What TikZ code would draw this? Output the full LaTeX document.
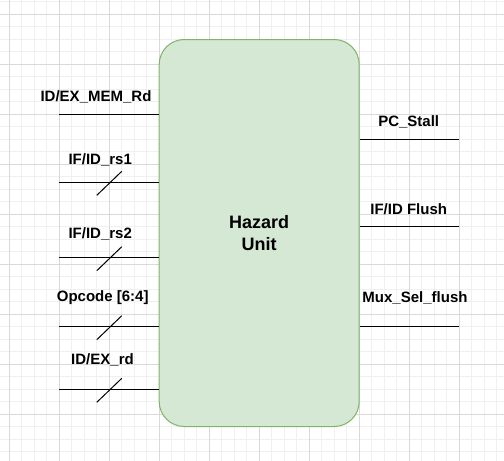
\documentclass[tikz,border=0pt]{standalone}
\usepackage{fontspec}
\setmainfont{Liberation Sans}
\usepackage{xcolor}
\usepackage{tikz}
\usetikzlibrary{positioning,calc}

\definecolor{gridmin}{HTML}{F0F0F0}
\definecolor{gridmaj}{HTML}{D9D9D9}
\definecolor{unitfill}{HTML}{D5E8D4}
\definecolor{unitdraw}{HTML}{82B366}

\tikzset{
  sig/.style={line width=1pt,black},
  busmark/.style={line width=1pt,black},
  siglabel/.style={font=\bfseries\fontsize{15}{18}\selectfont,anchor=base,inner sep=0pt},
  hazardbox/.style={draw=unitdraw,fill=unitfill,line width=1pt,rounded corners=25pt,
    minimum width=200pt,minimum height=387pt,align=center,
    font=\bfseries\fontsize{18}{21.7}\selectfont}
}

\begin{document}
\begin{tikzpicture}[x=1pt,y=-1pt]
  \useasboundingbox (0,0) rectangle (504,461);
  % background grid
  \fill[white] (0,0) rectangle (504,461);
  \foreach \i in {0,...,39}
    \draw[gridmin,line width=1pt] ({9.3+12.5*\i},0) -- ({9.3+12.5*\i},461);
  \foreach \i in {-1,...,35}
    \draw[gridmin,line width=1pt] (0,{14+12.5*\i}) -- (504,{14+12.5*\i});
  \foreach \i in {0,...,9}
    \draw[gridmaj,line width=1pt] ({9.3+50*\i},0) -- ({9.3+50*\i},461);
  \foreach \i in {0,...,8}
    \draw[gridmaj,line width=1pt] (0,{14+50*\i}) -- (504,{14+50*\i});

  % hazard unit block
  \node[hazardbox] (hazard) at (259.2,233) {Hazard\\Unit};

  % input ends
  \coordinate (memrd) at (59.3,114.3);
  \coordinate (rsone) at (59.3,182.3);
  \coordinate (rstwo) at (59.3,257.7);
  \coordinate (opcode) at (59.3,326.7);
  \coordinate (exrd) at (59.3,389.3);
  % output ends
  \coordinate (pcstall) at (459.3,139.3);
  \coordinate (ifidflush) at (459.3,226.7);
  \coordinate (muxflush) at (459.3,326.7);

  % inputs
  \foreach \c in {memrd,rsone,rstwo,opcode,exrd}
    \draw[sig] (\c) -- (\c -| hazard.west);
  % bus marks
  \foreach \c in {rsone,rstwo,opcode,exrd}
    \draw[busmark] ($(\c)+(37.5,13)$) -- ($(\c)+(62.5,-11)$);
  % outputs
  \foreach \c in {pcstall,ifidflush,muxflush}
    \draw[sig] (\c -| hazard.east) -- (\c);

  % labels
  \node[siglabel] (memrdlbl) at (96,101.7) {ID/EX\_MEM\_Rd};
  \node[siglabel] (rsonelbl) at (100.2,164) {IF/ID\_rs1};
  \node[siglabel] (rstwolbl) at (100.2,238.3) {IF/ID\_rs2};
  \node[siglabel] (opcodelbl) at (102.7,301) {Opcode [6:4]};
  \node[siglabel] (exrdlbl) at (102.5,364.3) {ID/EX\_rd};
  \node[siglabel] (pcstalllbl) at (408.7,126.7) {PC\_Stall};
  \node[siglabel] (ifidflushlbl) at (408.7,214) {IF/ID Flush};
  \node[siglabel] (muxflushlbl) at (415,302.3) {Mux\_Sel\_flush};
\end{tikzpicture}
\end{document}
